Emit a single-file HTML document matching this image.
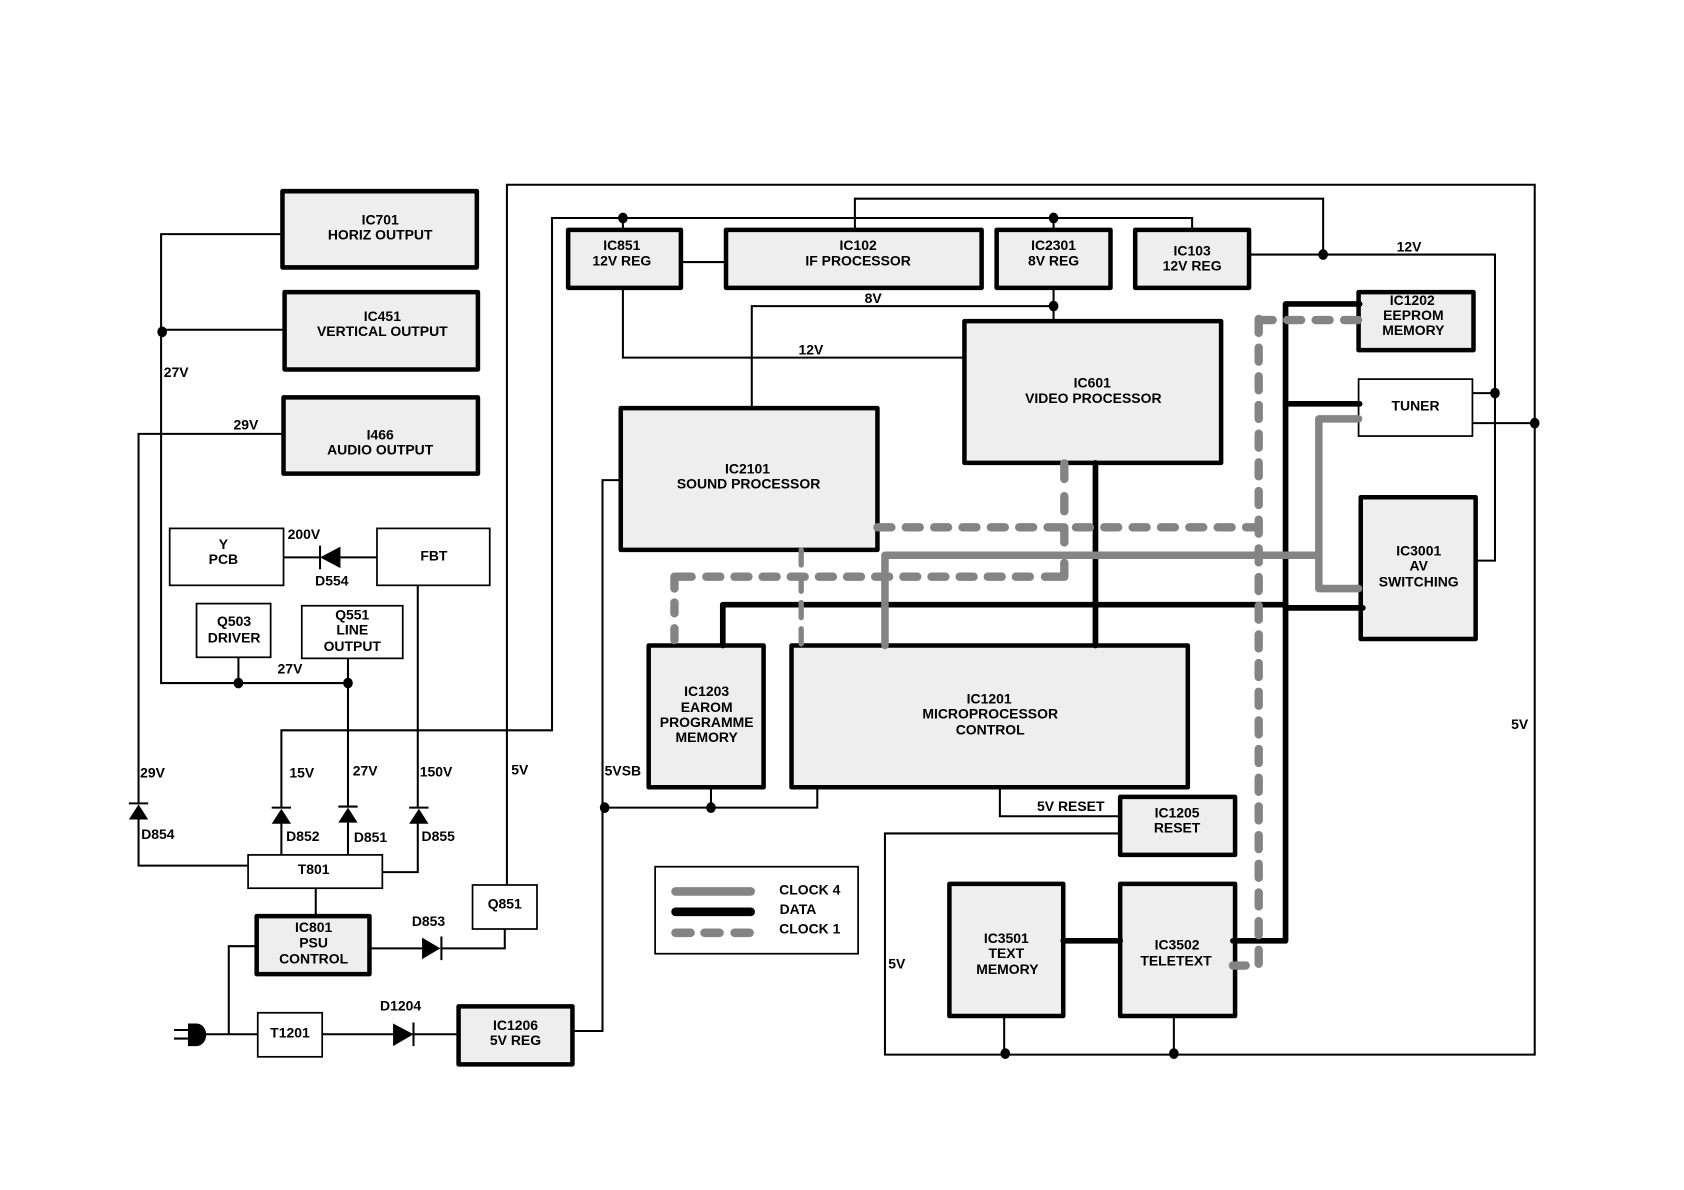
<!DOCTYPE html>
<html><head><meta charset="utf-8"><title>Block diagram</title>
<style>html,body{margin:0;padding:0;background:#fff}svg{display:block}
text{font-family:"Liberation Sans",sans-serif;font-weight:bold;font-size:13px;text-anchor:middle;fill:#000}
.t{fill:none;stroke:#000;stroke-width:1.9}
.b{fill:#eee;stroke:#000;stroke-width:4.2;stroke-linejoin:round}
.w{fill:#fff;stroke:#000;stroke-width:1.6}
.k{fill:none;stroke:#000;stroke-width:5.3;stroke-linejoin:round;stroke-linecap:round}
.g{fill:none;stroke:#848484;stroke-width:7;stroke-linejoin:round;stroke-linecap:round}
.d{fill:none;stroke:#848484;stroke-width:7.8;stroke-linejoin:round;stroke-linecap:round}
</style></head><body>
<svg xmlns="http://www.w3.org/2000/svg" width="1684" height="1190" viewBox="0 0 1568 1108">
<rect width="1568" height="1108" fill="#fff"/>
<g class="t">
<path d="M472 824V172H1429V982H824V776H1043"/>
<path d="M1371 394H1429"/>
<path d="M262 752V680H514V203H1110V214"/>
<path d="M580 203V214M981 203V214"/>
<path d="M796 214V185H1232V237"/>
<path d="M1164 237H1392V522H1374"/>
<path d="M1371 366H1392"/>
<path d="M635 244H676"/>
<path d="M580 268V333H898"/>
<path d="M700 379V285H981"/>
<path d="M981 268V298"/>
<path d="M578 447H561V960H534"/>
<path d="M563 752H761V733"/>
<path d="M662 733V752"/>
<path d="M931 733V760H1043"/>
<path d="M935 945V982M1093 946V982"/>
<path d="M263 218H150V636H324"/>
<path d="M151 307H265"/>
<path d="M222 612V636"/>
<path d="M324 613V752M324 766V798"/>
<path d="M264 404H129V748M129 762V806H231"/>
<path d="M389 545V752M389 766V812H356"/>
<path d="M262 766V798"/>
<path d="M294 827V853"/>
<path d="M238 881H213V963"/>
<path d="M190 963H240"/>
<path d="M300 963H366M385 963H426"/>
<path d="M345 883H393M410 883H470V865"/>
<path d="M264 519H298M317 519H351"/>
</g>
<!-- plain boxes -->
<rect class="w" x="158" y="492" width="106" height="53"/>
<rect class="w" x="351" y="492" width="105" height="53"/>
<rect class="w" x="183" y="562" width="69" height="50"/>
<rect class="w" x="281" y="564" width="94" height="49"/>
<rect class="w" x="231" y="796" width="125" height="31"/>
<rect class="w" x="440" y="824" width="60" height="41"/>
<rect class="w" x="240" y="943" width="60" height="41"/>
<rect class="w" x="1265" y="353" width="106" height="53"/>
<rect class="w" x="610" y="807" width="189" height="81"/>
<!-- IC boxes -->
<rect class="b" x="263" y="178" width="181" height="71"/>
<rect class="b" x="265" y="272" width="180" height="72"/>
<rect class="b" x="264" y="370" width="181" height="71"/>
<rect class="b" x="239" y="853" width="105" height="54"/>
<rect class="b" x="427" y="937" width="106" height="54"/>
<rect class="b" x="529" y="214" width="105" height="54"/>
<rect class="b" x="676" y="214" width="238" height="54"/>
<rect class="b" x="928" y="214" width="106" height="54"/>
<rect class="b" x="1057" y="214" width="106" height="54"/>
<rect class="b" x="898" y="299" width="239" height="132"/>
<rect class="b" x="578" y="380" width="239" height="132"/>
<rect class="b" x="1265" y="272" width="107" height="54"/>
<rect class="b" x="1267" y="463" width="107" height="132"/>
<rect class="b" x="604" y="601" width="107" height="132"/>
<rect class="b" x="737" y="601" width="369" height="132"/>
<rect class="b" x="1043" y="742" width="107" height="54"/>
<rect class="b" x="884" y="823" width="106" height="123"/>
<rect class="b" x="1043" y="823" width="107" height="123"/>
<!-- dots -->
<g fill="#000">
<ellipse cx="580" cy="203" rx="4.5" ry="5"/><ellipse cx="981" cy="203" rx="4.5" ry="5"/>
<ellipse cx="1232" cy="237" rx="4.5" ry="5"/><ellipse cx="981" cy="285" rx="4.5" ry="5"/>
<ellipse cx="1392" cy="366" rx="4.5" ry="5"/><ellipse cx="1429" cy="394" rx="4.5" ry="5"/>
<ellipse cx="151" cy="309" rx="4.5" ry="5"/><ellipse cx="222" cy="636" rx="4.5" ry="5"/>
<ellipse cx="324" cy="636" rx="4.5" ry="5"/><ellipse cx="563" cy="752" rx="4.5" ry="5"/>
<ellipse cx="662" cy="752" rx="4.5" ry="5"/><ellipse cx="936" cy="981" rx="4.5" ry="5"/>
<ellipse cx="1093" cy="981" rx="4.5" ry="5"/>
<!-- diodes -->
<path d="M129 749L120 763H138Z"/><path d="M262 753L253 767H271Z"/><path d="M324 752L315 766H333Z"/><path d="M390 753L381 767H399Z"/>
<path d="M298 519L317 509V529Z"/><path d="M393 873L410 883L393 893Z"/><path d="M366 953L385 963L366 974Z"/>
<!-- plug -->
<path d="M175 953H183A9 10.500 0 0 1 183 974H175Z"/>
</g>
<g class="t" stroke-width="1.4">
<path d="M120 748H138M253 752H271M315 751H333M381 752H399M298 508V530M411 872V894M385 952V974"/>
<path d="M162 959H175M162 967H175"/>
</g>
<!-- thick data -->
<g class="k">
<path d="M1266 283H1197V876H1148"/>
<path d="M1197 376H1266"/>
<path d="M1197 566H1269"/>
<path d="M673 601V563H1197"/>
<path d="M1020 431V601"/>
<path d="M990 876H1043"/>
</g>
<g class="g">
<path d="M824 601V517H1228"/>
<path d="M1265 390H1228V548H1265"/>
</g>
<path d="M629 830H699" fill="none" stroke="#848484" stroke-width="8" stroke-linecap="round"/>
<!-- dashed clock 1 -->
<g class="d">
<path d="M1172 298H1265" stroke-dasharray="13 13.5"/>
<path d="M1172 297V899H1148" stroke-dasharray="13 13.7"/>
<path d="M817 491H1172" stroke-dasharray="13 13.4"/>
<path d="M991 431.500V446M991 462V476M991 491V505M991 524V537H973"/>
<path d="M657.700 537H970" stroke-dasharray="13 13.2"/>
<path d="M644 537H628V548M628 561V571M628 585V596"/>
<path d="M746 512V600" stroke-width="5" stroke-dasharray="14 10.500"/>
<path d="M629 868.500H643M656 868.500H670M684 868.500H698" stroke-width="8"/>
</g>
<path d="M629 849H699" fill="none" stroke="#000" stroke-width="8" stroke-linecap="round"/>
<!-- labels -->
<g transform="translate(0,-1)">
<text x="354" y="210">IC701</text><text x="354" y="224">HORIZ OUTPUT</text>
<text x="356" y="300">IC451</text><text x="356" y="314">VERTICAL OUTPUT</text>
<text x="354" y="410">I466</text><text x="354" y="424">AUDIO OUTPUT</text>
<text x="164" y="352">27V</text><text x="229" y="401">29V</text>
<text x="208" y="512">Y</text><text x="208" y="526">PCB</text>
<text x="283" y="503">200V</text><text x="309" y="546">D554</text><text x="404" y="523">FBT</text>
<text x="218" y="584">Q503</text><text x="218" y="599">DRIVER</text>
<text x="328" y="578">Q551</text><text x="328" y="592">LINE</text><text x="328" y="607">OUTPUT</text>
<text x="270" y="628">27V</text>
<text x="142" y="725">29V</text><text x="281" y="725">15V</text><text x="340" y="723">27V</text><text x="406" y="724">150V</text>
<text x="484" y="722">5V</text><text x="580" y="723">5VSB</text>
<text x="147" y="782">D854</text><text x="282" y="784">D852</text><text x="345" y="785">D851</text><text x="408" y="784">D855</text>
<text x="292" y="815">T801</text><text x="470" y="847">Q851</text><text x="399" y="863">D853</text>
<text x="292" y="869">IC801</text><text x="292" y="883">PSU</text><text x="292" y="898">CONTROL</text>
<text x="373" y="942">D1204</text><text x="270" y="967">T1201</text>
<text x="480" y="960">IC1206</text><text x="480" y="974">5V REG</text>
<text x="579" y="234">IC851</text><text x="579" y="248">12V REG</text>
<text x="799" y="234">IC102</text><text x="799" y="248">IF PROCESSOR</text>
<text x="981" y="234">IC2301</text><text x="981" y="248">8V REG</text>
<text x="1110" y="239">IC103</text><text x="1110" y="253">12V REG</text>
<text x="1312" y="235">12V</text><text x="813" y="283">8V</text><text x="755" y="331">12V</text>
<text x="1017" y="362">IC601</text><text x="1018" y="376">VIDEO PROCESSOR</text>
<text x="696" y="442">IC2101</text><text x="697" y="456">SOUND PROCESSOR</text>
<text x="1315" y="285">IC1202</text><text x="1316" y="299">EEPROM</text><text x="1316" y="313">MEMORY</text>
<text x="1318" y="383">TUNER</text>
<text x="1321" y="518">IC3001</text><text x="1321" y="532">AV</text><text x="1321" y="547">SWITCHING</text>
<text x="658" y="649">IC1203</text><text x="658" y="664">EAROM</text><text x="658" y="678">PROGRAMME</text><text x="658" y="692">MEMORY</text>
<text x="921" y="656">IC1201</text><text x="922" y="670">MICROPROCESSOR</text><text x="922" y="685">CONTROL</text>
<text x="997" y="756">5V RESET</text>
<text x="1096" y="762">IC1205</text><text x="1096" y="776">RESET</text>
<text x="937" y="879">IC3501</text><text x="937" y="893">TEXT</text><text x="938" y="908">MEMORY</text>
<text x="1096" y="885">IC3502</text><text x="1095" y="900">TELETEXT</text>
<text x="835" y="903">5V</text><text x="1415" y="680">5V</text>
<text x="754" y="834">CLOCK 4</text><text x="743" y="852">DATA</text><text x="754" y="870">CLOCK 1</text>
</g>
</svg>
</body></html>
